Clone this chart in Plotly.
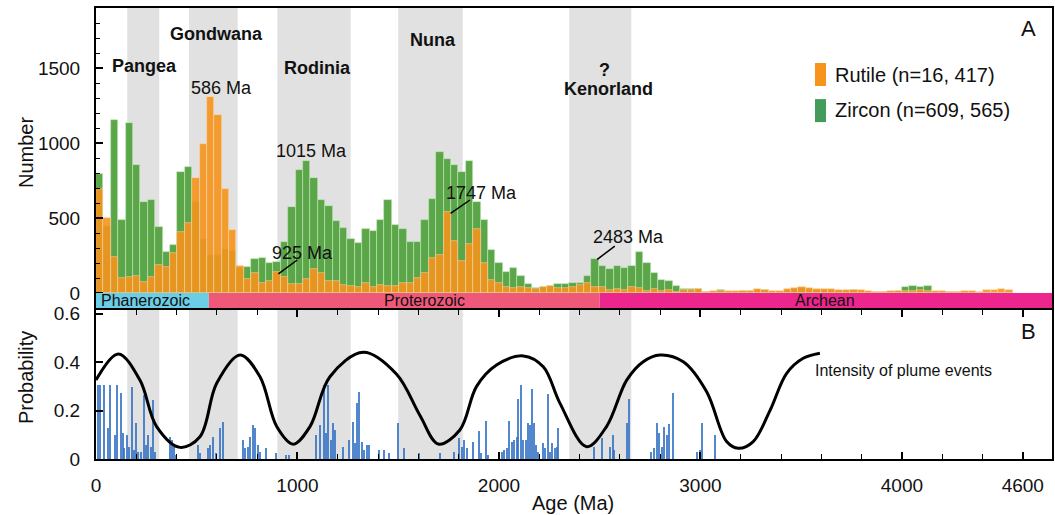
import numpy as np
import plotly.graph_objects as go

# ---------------- data ----------------
BIN_WIDTH = 36.7  # Ma

zircon_counts = [
    791, 450, 1153, 487, 1131, 853, 607, 620, 440, 276,
    320, 804, 838, 609, 358, 253, 253, 291, 280, 170,
    176, 224, 231, 198, 209, 342, 576, 820, 880, 764,
    620, 582, 480, 436, 358, 336, 424, 416, 487, 620,
    453, 424, 342, 338, 487, 624, 938, 893, 853, 809,
    882, 604, 487, 290, 200, 138, 164, 115, 58, 36,
    42, 49, 58, 60, 64, 69, 113, 227, 182, 160,
    182, 164, 182, 271, 198, 136, 87, 80, 47, 27,
    27, 27, 8, 8, 20, 10, 10, 12, 14, 20,
    18, 10, 10, 22, 28, 32, 30, 22, 22, 20,
    16, 16, 18, 14, 10, 8, 8, 10, 14, 42,
    47, 38, 45, 10, 8, 8, 6, 6, 4, 3,
    2, 1, 0, 0,
]

rutile_counts = [
    693, 502, 242, 102, 109, 113, 71, 109, 187, 171,
    264, 409, 469, 764, 991, 1304, 1187, 693, 420, 182,
    93, 131, 64, 78, 142, 107, 58, 58, 96, 162,
    131, 80, 80, 56, 49, 42, 64, 42, 51, 47,
    49, 67, 67, 102, 131, 236, 253, 538, 347, 213,
    324, 424, 198, 87, 69, 42, 31, 38, 36, 27,
    42, 49, 31, 36, 42, 53, 69, 42, 42, 20,
    27, 20, 42, 36, 16, 27, 16, 20, 9, 20,
    20, 27, 10, 12, 14, 12, 12, 14, 16, 24,
    22, 12, 12, 27, 33, 38, 36, 27, 27, 24,
    20, 20, 22, 18, 12, 10, 10, 12, 16, 16,
    14, 18, 16, 12, 12, 10, 10, 14, 12, 8,
    18, 20, 27, 20,
]

# probability (panel B) bars
prob_ages = [
    8, 20, 41, 58, 69, 96, 104, 124, 132, 141, 154, 165, 179, 187, 199, 207,
    223, 240, 248, 256, 273, 285, 294, 367, 377, 389, 397, 505, 516, 554,
    566, 579, 596, 615, 629, 728, 741, 753, 764, 778, 789, 802, 816, 844,
    893, 943, 960, 1092, 1112, 1133, 1142, 1153, 1166, 1178, 1188, 1224,
    1257, 1274, 1285, 1295, 1307, 1319, 1332, 1343, 1353, 1406, 1431, 1456,
    1497, 1530, 1603, 1707, 1777, 1802, 1815, 1828, 1840, 1873, 1901, 1911,
    1934, 1947, 2013, 2025, 2038, 2050, 2063, 2075, 2088, 2096, 2108, 2121,
    2133, 2146, 2154, 2162, 2174, 2184, 2195, 2217, 2230, 2242, 2253, 2265,
    2277, 2286, 2295, 2473, 2510, 2551, 2564, 2573, 2634, 2647, 2753, 2770,
    2786, 2796, 2807, 2821, 2832, 2846, 2862, 2981, 2998, 3009, 3072,
]
prob_values = [
    0.306, 0.306, 0.306, 0.127, 0.306, 0.099, 0.306, 0.271, 0.106, 0.044, 0.099, 0.05, 0.299, 0.037, 0.147, 0.03,
    0.03, 0.264, 0.058, 0.099, 0.05, 0.244, 0.03, 0.092, 0.078, 0.05, 0.016, 0.058, 0.023, 0.044,
    0.058, 0.092, 0.023, 0.127, 0.154, 0.078, 0.044, 0.05, 0.092, 0.14, 0.127, 0.058, 0.03, 0.044,
    0.023, 0.016, 0.016, 0.099, 0.14, 0.306, 0.106, 0.306, 0.078, 0.147, 0.12, 0.05,
    0.078, 0.154, 0.065, 0.23, 0.278, 0.071, 0.037, 0.058, 0.058, 0.037, 0.037, 0.023,
    0.147, 0.044, 0.023, 0.023, 0.03, 0.085, 0.05, 0.078, 0.044, 0.071, 0.116, 0.023,
    0.157, 0.016, 0.03, 0.037, 0.044, 0.157, 0.071, 0.078, 0.092, 0.25, 0.306, 0.078,
    0.078, 0.147, 0.14, 0.288, 0.147, 0.058, 0.03, 0.065, 0.044, 0.268, 0.03, 0.068,
    0.044, 0.048, 0.127, 0.05, 0.085, 0.05, 0.099, 0.037, 0.147, 0.247, 0.03, 0.044,
    0.147, 0.109, 0.05, 0.134, 0.099, 0.143, 0.274, 0.03, 0.037, 0.15, 0.101,
]

# plume intensity curve
plume_ages = [0, 111, 218, 301, 417, 516, 599, 715, 814, 897, 979, 1062, 1161, 1327,
              1492, 1608, 1699, 1806, 1889, 1988, 2121, 2220, 2303, 2435, 2534, 2634,
              2716, 2799, 2915, 3031, 3130, 3188, 3262, 3345, 3428, 3510, 3593]
plume_intensity = [0.326, 0.434, 0.326, 0.134, 0.048, 0.092, 0.313, 0.43, 0.34, 0.134,
                   0.061, 0.134, 0.34, 0.441, 0.35, 0.18, 0.062, 0.12, 0.3, 0.388,
                   0.426, 0.381, 0.23, 0.051, 0.134, 0.326, 0.402, 0.43, 0.402, 0.278,
                   0.072, 0.044, 0.072, 0.2, 0.354, 0.416, 0.437]

# supercontinent intervals (Ma)
band_starts = [155, 462, 900, 1500, 2349]
band_ends = [314, 703, 1264, 1820, 2657]

# eons
eon_names = ["Phanerozoic", "Proterozoic", "Archean"]
eon_starts = [0, 560, 2500]
eon_ends = [560, 2500, 4745]
eon_colors = ["#6ccde6", "#f0587a", "#ec268c"]
eon_label_x = [246, 1628, 3620]

supercontinents = ["Pangea", "Gondwana", "Rodinia", "Nuna", "?", "Kenorland"]
super_x = [240, 596, 1100, 1674, 2526, 2546]
super_y = [1515, 1724, 1498, 1687, 1487, 1358]

peak_labels = ["586 Ma", "1015 Ma", "925 Ma", "1747 Ma", "2483 Ma"]
peak_label_x = [622, 1070, 1024, 1914, 2645]
peak_label_y = [1364, 949, 269, 664, 371]

x_ticks = [0, 1000, 2000, 3000, 4000, 4600]
XMAX = 4745
YMAX_TOP = 1900
YMIN_TOP = -100
YMAX_BOT = 0.6157

# ---------------- figure ----------------
FONT = "Liberation Sans, Arial, Helvetica, sans-serif"
ORANGE = "#f7941d"
GREEN = "#5aa648"

n = len(zircon_counts)
centers = (np.arange(n) + 0.5) * BIN_WIDTH

fig = go.Figure()
fig.add_trace(go.Bar(x=centers, y=zircon_counts, width=BIN_WIDTH, name="Zircon",
                     marker=dict(color=GREEN, line=dict(color="rgba(200,235,190,0.8)", width=0.7)),
                     xaxis="x", yaxis="y", showlegend=False))
fig.add_trace(go.Bar(x=centers, y=rutile_counts, width=BIN_WIDTH, name="Rutile",
                     marker=dict(color=ORANGE, line=dict(color="rgba(255,215,170,0.8)", width=0.7)),
                     opacity=0.9, xaxis="x", yaxis="y", showlegend=False))

fig.add_trace(go.Bar(x=prob_ages, y=prob_values, width=10,
                     marker=dict(color="rgba(52,114,196,0.85)", line=dict(width=0)),
                     xaxis="x2", yaxis="y2", showlegend=False))
fig.add_trace(go.Scatter(x=plume_ages, y=plume_intensity, mode="lines",
                         line=dict(color="black", width=3, shape="spline", smoothing=1.0),
                         xaxis="x2", yaxis="y2", showlegend=False))

shapes = []
for s, e in zip(band_starts, band_ends):
    shapes.append(dict(type="rect", xref="x", yref="y", x0=s, x1=e, y0=0, y1=YMAX_TOP,
                       fillcolor="#e1e1e1", line=dict(width=0), layer="below"))
    shapes.append(dict(type="rect", xref="x2", yref="y2", x0=s, x1=e, y0=0, y1=YMAX_BOT,
                       fillcolor="#e1e1e1", line=dict(width=0), layer="below"))
for s, e, c in zip(eon_starts, eon_ends, eon_colors):
    shapes.append(dict(type="rect", xref="x", yref="y", x0=s, x1=e, y0=YMIN_TOP, y1=0,
                       fillcolor=c, line=dict(width=0), layer="above"))

# leader lines for peak labels
leaders = [((905, 127), (999, 220)), ((1760, 531), (1856, 620)), ((2488, 224), (2575, 313))]
for (x0, y0), (x1, y1) in leaders:
    shapes.append(dict(type="line", xref="x", yref="y", x0=x0, y0=y0, x1=x1, y1=y1,
                       line=dict(color="black", width=1.5)))

# custom legend swatches
shapes.append(dict(type="rect", xref="paper", yref="paper", x0=0.7521, x1=0.7636, y0=0.827, y1=0.878,
                   fillcolor=ORANGE, line=dict(width=0)))
shapes.append(dict(type="rect", xref="paper", yref="paper", x0=0.7521, x1=0.7636, y0=0.747, y1=0.798,
                   fillcolor="#449c5c", line=dict(width=0)))


def ann(text, x, y, xref, yref, size, xanchor="center", angle=0):
    return dict(text=text, x=x, y=y, xref=xref, yref=yref, xanchor=xanchor, yanchor="middle",
                showarrow=False, textangle=angle, font=dict(size=size, color="#111", family=FONT))


annotations = []
for t, x, y in zip(supercontinents, super_x, super_y):
    annotations.append(ann("<b>%s</b>" % t, x, y, "x", "y", 18))
for t, x, y in zip(peak_labels, peak_label_x, peak_label_y):
    annotations.append(ann(t, x, y, "x", "y", 18))
for t, x in zip(eon_names, eon_label_x):
    annotations.append(ann(t, x, -48, "x", "y", 16))
annotations += [
    ann("Rutile (n=16, 417)", 0.771, 0.851, "paper", "paper", 20, xanchor="left"),
    ann("Zircon (n=609, 565)", 0.771, 0.774, "paper", "paper", 20, xanchor="left"),
    ann("A", 0.9756, 0.955, "paper", "paper", 22),
    ann("B", 0.9756, 0.2823, "paper", "paper", 22),
    ann("Intensity of plume events", 3557, 0.365, "x2", "y2", 16, xanchor="left"),
    ann("Number", -0.0732, 0.6785, "paper", "paper", 20, angle=-90),
    ann("Probability", -0.0732, 0.1796, "paper", "paper", 20, angle=-90),
    ann("Age (Ma)", 0.499, -0.0976, "paper", "paper", 20),
]

tickfont = dict(size=19, color="#111", family=FONT)
top_minor = [v for v in range(100, 1900, 100) if v % 500 != 0]

fig.update_layout(
    width=1055, height=515,
    margin=dict(l=96, r=3, t=8, b=56),
    paper_bgcolor="white", plot_bgcolor="white",
    barmode="overlay", bargap=0,
    shapes=shapes, annotations=annotations,
    xaxis=dict(domain=[0, 1], range=[0, XMAX], anchor="y", showticklabels=False, ticks="",
               showline=True, mirror=True, linecolor="black", linewidth=2, showgrid=False,
               zeroline=False, automargin=False),
    yaxis=dict(domain=[0.3348, 1], range=[YMIN_TOP, YMAX_TOP], anchor="x",
               tickmode="array", tickvals=[0, 500, 1000, 1500], ticks="inside", ticklen=7,
               tickwidth=1.5, tickcolor="black",
               minor=dict(tickmode="array", tickvals=top_minor, ticks="inside", ticklen=4,
                          tickcolor="black", tickwidth=1.2),
               tickfont=tickfont, ticklabelstandoff=10, automargin=False,
               showline=True, mirror=True, linecolor="black", linewidth=2, showgrid=False, zeroline=False),
    xaxis2=dict(domain=[0, 1], range=[0, XMAX], anchor="y2",
                tickmode="array", tickvals=x_ticks, ticks="inside", ticklen=7, tickwidth=1.5,
                tickcolor="black",
                minor=dict(tickmode="linear", tick0=0, dtick=200, ticks="inside", ticklen=5,
                           tickcolor="black", tickwidth=1.2),
                tickfont=tickfont, ticklabelstandoff=8, automargin=False,
                showline=True, mirror="ticks", linecolor="black", linewidth=2, showgrid=False,
                zeroline=False),
    yaxis2=dict(domain=[0, 0.3304], range=[0, YMAX_BOT], anchor="x2",
                tickmode="array", tickvals=[0, 0.2, 0.4, 0.6], ticktext=["0", "0.2", "0.4", "0.6"],
                ticks="inside", ticklen=7, tickwidth=1.5, tickcolor="black",
                tickfont=tickfont, ticklabelstandoff=10, automargin=False,
                showline=True, mirror=True, linecolor="black", linewidth=2, showgrid=False,
                zeroline=False),
)

fig.write_html("out.html", config={"displayModeBar": False},
               post_script="document.body.style.margin='0';")
